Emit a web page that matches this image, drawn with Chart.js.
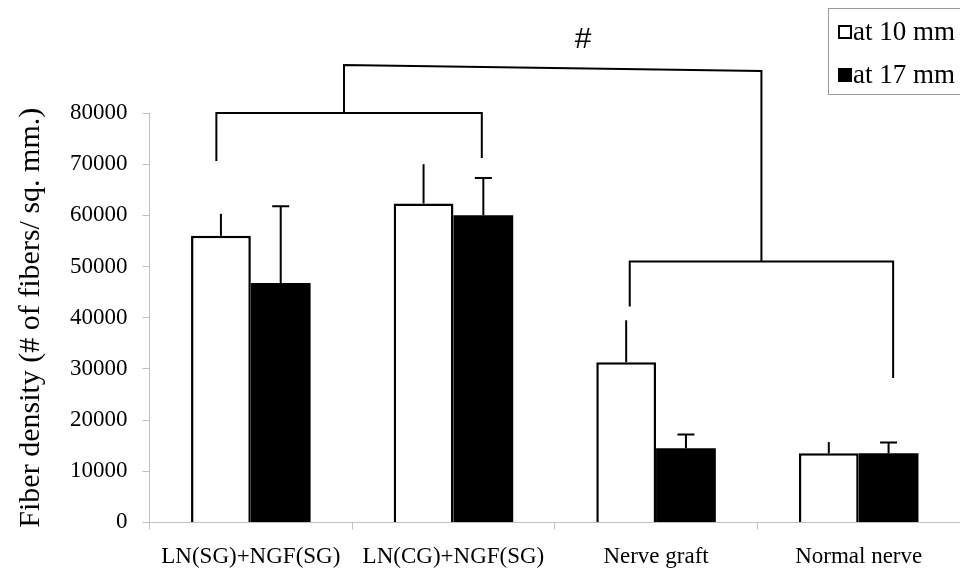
<!DOCTYPE html>
<html lang="en">
<head>
    <meta charset="UTF-8">
    <title>Fiber density</title>
    <script src="https://cdn.jsdelivr.net/npm/chart.js"></script>
    <style>
        body {
            margin: 0;
            padding: 0;
            background: #ffffff;
        }

        .container {
            width: 960px;
            height: 572px;
        }
    </style>
</head>
<body>
    <div class="container">
        <canvas id="densityChart" width="960" height="572"></canvas>
    </div>

    <script>
        const categories = ['LN(SG)+NGF(SG)', 'LN(CG)+NGF(SG)', 'Nerve graft', 'Normal nerve'];
        const seriesNames = ['at 10 mm', 'at 17 mm'];
        const at10 = [56000, 62300, 31300, 13500];
        const at17 = [46800, 60000, 14500, 13500];
        const at10Err = [60300, 70000, 39500, 15700];   // top of whisker
        const at17Err = [61800, 67300, 17200, 15600];
        const yTicks = [0, 10000, 20000, 30000, 40000, 50000, 60000, 70000, 80000];

        // significance brackets: [category index, value] points
        const brackets = [
            [[-0.17, 70600], [-0.17, 80000], [1.14, 80000], [1.14, 71200]],
            [[0.46, 80000], [0.46, 89400], [2.52, 88200], [2.52, 51000]],
            [[1.87, 42200], [1.87, 51000], [3.17, 51000], [3.17, 28200]],
        ];
        const markText = '#';
        const markAt = [1.64, 94300];

        Chart.defaults.font.family = "'Liberation Serif', 'Times New Roman', serif";
        Chart.defaults.color = '#000';

        const extras = {
            id: 'extras',
            afterDatasetsDraw(chart) {
                const ctx = chart.ctx;
                const x = chart.scales.x;
                const y = chart.scales.y;
                const xAt = (v) => x.getPixelForValue(0) + v * (x.getPixelForValue(1) - x.getPixelForValue(0));

                // whiskers (only the black bars get a cap)
                const errs = [at10Err, at17Err];
                ctx.save();
                ctx.strokeStyle = '#000';
                ctx.lineWidth = 2;
                chart.data.datasets.forEach((ds, d) => {
                    const meta = chart.getDatasetMeta(d);
                    meta.data.forEach((bar, i) => {
                        const top = y.getPixelForValue(errs[d][i]);
                        ctx.beginPath();
                        ctx.moveTo(bar.x, bar.y);
                        ctx.lineTo(bar.x, top);
                        if (d === 1) {
                            ctx.moveTo(bar.x - 8.5, top);
                            ctx.lineTo(bar.x + 8.5, top);
                        }
                        ctx.stroke();
                    });
                });

                // brackets
                brackets.forEach((pts) => {
                    ctx.beginPath();
                    pts.forEach((p, k) => {
                        const px = xAt(p[0]);
                        const py = y.getPixelForValue(p[1]);
                        if (k === 0) ctx.moveTo(px, py);
                        else ctx.lineTo(px, py);
                    });
                    ctx.stroke();
                });

                // # mark
                ctx.font = "30px 'Liberation Sans', Arial, sans-serif";
                ctx.textAlign = 'center';
                ctx.textBaseline = 'middle';
                ctx.fillStyle = '#000';
                ctx.fillText(markText, xAt(markAt[0]), y.getPixelForValue(markAt[1]));

                // legend box
                const lx = chart.width - 132;
                ctx.strokeStyle = '#999';
                ctx.lineWidth = 1;
                ctx.strokeRect(lx + 0.5, 8.5, 140, 86);
                ctx.font = "27px 'Liberation Serif', 'Times New Roman', serif";
                ctx.textAlign = 'left';
                chart.data.datasets.forEach((ds, d) => {
                    const cy = 32 + d * 43;
                    if (d === 0) {
                        ctx.fillStyle = '#fff';
                        ctx.fillRect(lx + 10, cy - 7, 14, 14);
                        ctx.strokeStyle = '#000';
                        ctx.lineWidth = 2;
                        ctx.strokeRect(lx + 11, cy - 6, 12, 12);
                    } else {
                        ctx.fillStyle = '#000';
                        ctx.fillRect(lx + 10, cy - 7, 14, 14);
                    }
                    ctx.fillStyle = '#000';
                    ctx.fillText(ds.label, lx + 25, cy + 1);
                });
                ctx.restore();
            }
        };

        const ctx = document.getElementById('densityChart').getContext('2d');
        new Chart(ctx, {
            type: 'bar',
            data: {
                labels: categories,
                datasets: [
                    {
                        label: seriesNames[0],
                        data: at10,
                        backgroundColor: '#ffffff',
                        borderColor: '#000000',
                        borderWidth: 2.5,
                        categoryPercentage: 0.59,
                        barPercentage: 1.0,
                    },
                    {
                        label: seriesNames[1],
                        data: at17,
                        backgroundColor: '#000000',
                        borderColor: '#000000',
                        borderWidth: 0,
                        categoryPercentage: 0.59,
                        barPercentage: 1.0,
                    },
                ],
            },
            options: {
                responsive: false,
                animation: false,
                layout: {
                    padding: { top: 113, left: 0, right: 0, bottom: -13 }
                },
                plugins: {
                    legend: { display: false },
                    tooltip: { enabled: false },
                },
                scales: {
                    x: {
                        grid: {
                            drawOnChartArea: false,
                            tickLength: 7,
                            color: '#c0c0c0',
                        },
                        border: { color: '#c0c0c0' },
                        ticks: {
                            padding: 14,
                            maxRotation: 0,
                            autoSkip: false,
                            font: { size: 23 },
                        },
                    },
                    y: {
                        min: 0,
                        max: 80000,
                        afterBuildTicks: (scale) => {
                            scale.ticks = yTicks.map((v) => ({ value: v }));
                        },
                        grid: {
                            drawOnChartArea: false,
                            tickLength: 7,
                            color: '#c0c0c0',
                        },
                        border: { color: '#c0c0c0' },
                        ticks: {
                            padding: 15,
                            font: { size: 23 },
                            callback: (value) => String(value),
                        },
                        title: {
                            display: true,
                            text: 'Fiber density (# of fibers/ sq. mm.)',
                            font: { size: 30 },
                            padding: { top: 13, bottom: 6 },
                        },
                    },
                },
            },
            plugins: [extras],
        });
    </script>
</body>
</html>
